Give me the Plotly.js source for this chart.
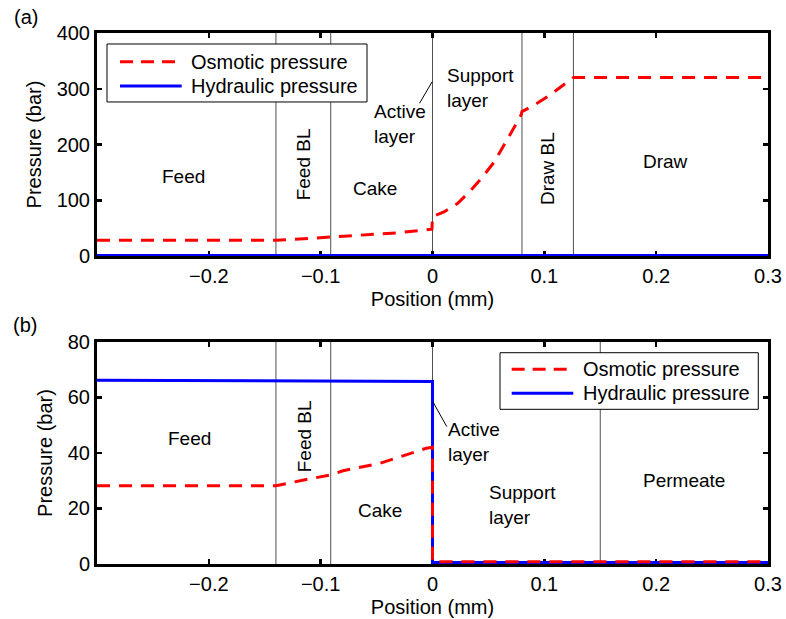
<!DOCTYPE html>
<html>
<head>
<meta charset="utf-8">
<script src="https://cdn.plot.ly/plotly-3.0.1.min.js"></script>
<style>html,body{margin:0;padding:0;background:#fff;}#chart{width:786px;height:619px;}</style>
</head>
<body>
<div id="chart"></div>
<script>
// ---------- data ----------
// Panel (a)
const topOsmoticX = [-0.3, -0.14, -0.115, -0.091, -0.06, -0.03, -0.0005, 0, 0.0107, 0.0226, 0.0345, 0.0449, 0.0554, 0.0643, 0.0717, 0.0792, 0.08, 0.0911, 0.106, 0.1208, 0.126, 0.3];
const topOsmoticY = [28.5, 28.5, 31, 34, 37.5, 41.8, 48, 71, 79.5, 94.5, 118.4, 142.3, 169.2, 199, 226, 253, 259, 271, 290, 312.6, 320, 320];
const topHydraulicX = [-0.3, 0.3];
const topHydraulicY = [0.8, 0.8];
const topBoundaries = [-0.14, -0.091, 0, 0.08, 0.126];

// Panel (b)
const botOsmoticX = [-0.3, -0.14, -0.115, -0.091, -0.08, -0.047, -0.0056, 0, 0, 0.3];
const botOsmoticY = [28.2, 28.2, 30.3, 32.1, 33.6, 36.3, 41.7, 42.1, 0.8, 0.8];
const botHydraulicX = [-0.3, -0.14, -0.091, -0.02, 0, 0, 0.3];
const botHydraulicY = [66.2, 66.1, 66.0, 65.9, 65.8, 0.5, 0.5];
const botBoundaries = [-0.14, -0.091, 0, 0.15];

// ticks
const xTickVals = [-0.2, -0.1, 0, 0.1, 0.2, 0.3];
const xTickText = ['\u22120.2', '\u22120.1', '0', '0.1', '0.2', '0.3'];
const topYTicks = [0, 100, 200, 300, 400];
const botYTicks = [0, 20, 40, 60, 80];

const seriesNames = ['Osmotic pressure', 'Hydraulic pressure'];

// region labels
const topLabels = [
  {text: 'Feed', x: -0.2223, y: 142.2},
  {text: 'Feed BL', x: -0.1158, y: 164.4, rot: -90},
  {text: 'Cake', x: -0.0512, y: 121.4},
  {text: 'Active<br>layer', x: -0.0545, y: 237, left: true},
  {text: 'Support<br>layer', x: 0.0113, y: 302, left: true},
  {text: 'Draw BL', x: 0.103, y: 157.3, rot: -90},
  {text: 'Draw', x: 0.2082, y: 169.2}
];
const botLabels = [
  {text: 'Feed', x: -0.2177, y: 45.3},
  {text: 'Feed BL', x: -0.1143, y: 45.9, rot: -90},
  {text: 'Cake', x: -0.0469, y: 19.1},
  {text: 'Active<br>layer', x: 0.0122, y: 44.0, left: true},
  {text: 'Support<br>layer', x: 0.0491, y: 21.4, left: true},
  {text: 'Permeate', x: 0.2253, y: 30.0}
];
// leader lines for "Active layer"
const topLeader = {x0: -0.0116, y0: 273.9, x1: -0.0003, y1: 312.6};
const botLeader = {x0: 0.0003, y0: 58.5, x1: 0.0128, y1: 49.5};

// ---------- styling ----------
const FONT = '"Liberation Sans", Arial, Helvetica, sans-serif';
const RED = '#ff0000', BLUE = '#0000ff';

const traces = [
  {x: topHydraulicX, y: topHydraulicY, xaxis: 'x', yaxis: 'y', mode: 'lines', name: seriesNames[1],
   line: {color: BLUE, width: 3}, showlegend: false},
  {x: topOsmoticX, y: topOsmoticY, xaxis: 'x', yaxis: 'y', mode: 'lines', name: seriesNames[0],
   line: {color: RED, width: 3, dash: '13px,9px'}, showlegend: false},
  {x: botHydraulicX, y: botHydraulicY, xaxis: 'x2', yaxis: 'y2', mode: 'lines', name: seriesNames[1],
   line: {color: BLUE, width: 3}, showlegend: false},
  {x: botOsmoticX, y: botOsmoticY, xaxis: 'x2', yaxis: 'y2', mode: 'lines', name: seriesNames[0],
   line: {color: RED, width: 3, dash: '13px,9px'}, showlegend: false}
];

function xAxis(anchor) {
  return {
    anchor: anchor, range: [-0.3, 0.3], tickvals: xTickVals, ticktext: xTickText,
    ticks: 'inside', ticklen: 5, tickwidth: 2.5, tickcolor: '#000',
    showline: true, linewidth: 3, linecolor: '#000', mirror: 'ticks',
    showgrid: false, zeroline: false, layer: 'below traces',
    tickfont: {family: FONT, size: 20, color: '#000'},
    title: {text: 'Position (mm)', font: {family: FONT, size: 20, color: '#000'}, standoff: 6}
  };
}
function yAxis(anchor, domain, range, ticks) {
  return {
    anchor: anchor, domain: domain, range: range, tickvals: ticks,
    ticks: 'inside', ticklen: 5, tickwidth: 2.5, tickcolor: '#000',
    showline: true, linewidth: 3, linecolor: '#000', mirror: 'ticks',
    showgrid: false, zeroline: false, layer: 'below traces',
    tickfont: {family: FONT, size: 20, color: '#000'},
    title: {text: 'Pressure (bar)', font: {family: FONT, size: 20, color: '#000'}, standoff: 10}
  };
}

const shapes = [];
const annotations = [];
topBoundaries.forEach(b => shapes.push({type: 'line', xref: 'x', yref: 'y domain', x0: b, x1: b, y0: 0, y1: 1,
  line: {color: '#505050', width: 1}, layer: 'below'}));
botBoundaries.forEach(b => shapes.push({type: 'line', xref: 'x2', yref: 'y2 domain', x0: b, x1: b, y0: 0, y1: 1,
  line: {color: '#505050', width: 1}, layer: 'below'}));
shapes.push(Object.assign({type: 'line', xref: 'x', yref: 'y', line: {color: '#000', width: 1}}, topLeader));
shapes.push(Object.assign({type: 'line', xref: 'x2', yref: 'y2', line: {color: '#000', width: 1}}, botLeader));

function addLabels(list, xr, yr) {
  list.forEach(l => annotations.push({
    text: l.text, x: l.x, y: l.y, xref: xr, yref: yr, showarrow: false,
    textangle: l.rot || 0, xanchor: l.left ? 'left' : 'center', yanchor: 'middle', align: 'left',
    font: {family: FONT, size: 19, color: '#000'}
  }));
}
addLabels(topLabels, 'x', 'y');
addLabels(botLabels, 'x2', 'y2');

// manual legends (box, samples, labels) in paper coordinates
function addLegend(box, sx0, sx1, rows, tx) {
  shapes.push({type: 'rect', xref: 'paper', yref: 'paper', x0: box[0], x1: box[1], y0: box[2], y1: box[3],
    line: {color: '#000', width: 1}, fillcolor: '#fff', layer: 'above'});
  shapes.push({type: 'line', xref: 'paper', yref: 'paper', x0: sx0, x1: sx1, y0: rows[0], y1: rows[0],
    line: {color: RED, width: 3, dash: '13px,8px'}, layer: 'above'});
  shapes.push({type: 'line', xref: 'paper', yref: 'paper', x0: sx0, x1: sx1, y0: rows[1], y1: rows[1],
    line: {color: BLUE, width: 3}, layer: 'above'});
  seriesNames.forEach((n, i) => annotations.push({text: n, xref: 'paper', yref: 'paper', x: tx, y: rows[i],
    xanchor: 'left', yanchor: 'middle', showarrow: false, font: {family: FONT, size: 20, color: '#000'}}));
}
addLegend([0.0149, 0.4024, 0.8701, 0.9793], 0.0343, 0.1262, [0.9460, 0.9002], 0.1376);
addLegend([0.6006, 0.9855, 0.2913, 0.3979], 0.6180, 0.7098, [0.3667, 0.3215], 0.7213);

annotations.push({text: '(a)', xref: 'paper', yref: 'paper', x: -0.1054, y: 1.0307, xanchor: 'center', yanchor: 'middle',
  showarrow: false, font: {family: FONT, size: 20, color: '#000'}});
annotations.push({text: '(b)', xref: 'paper', yref: 'paper', x: -0.107, y: 0.4501, xanchor: 'center', yanchor: 'middle',
  showarrow: false, font: {family: FONT, size: 20, color: '#000'}});

const layout = {
  width: 786, height: 619,
  margin: {l: 97, r: 18, t: 33, b: 55},
  paper_bgcolor: '#fff', plot_bgcolor: '#fff',
  font: {family: FONT, size: 20, color: '#000'},
  showlegend: false,
  xaxis: xAxis('y'),
  yaxis: yAxis('x', [0.58, 1], [0, 400], topYTicks),
  xaxis2: xAxis('y2'),
  yaxis2: yAxis('x2', [0, 0.4181], [0, 80], botYTicks),
  shapes: shapes,
  annotations: annotations
};

Plotly.newPlot('chart', traces, layout, {displayModeBar: false, staticPlot: true});
</script>
</body>
</html>
